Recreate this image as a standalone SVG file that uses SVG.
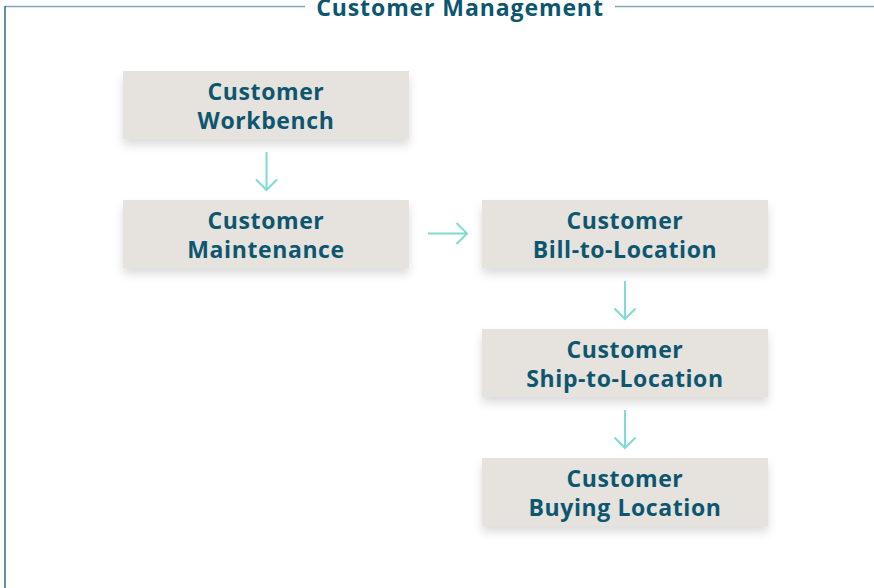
<svg xmlns="http://www.w3.org/2000/svg" width="874" height="588" viewBox="0 0 874 588">
<defs>
<style>
.box{fill:#e6e2dd;filter:url(#sh);}
.lbl{font-family:"Open Sans","Noto Sans",sans-serif;font-weight:700;font-size:23px;letter-spacing:0.6px;fill:#0d566f;text-anchor:middle;}
.title{font-family:"Open Sans","Noto Sans",sans-serif;font-weight:700;font-size:23px;letter-spacing:0.9px;fill:#0d566f;text-anchor:middle;}
.arr{stroke:#7fdcd4;stroke-width:2;fill:none;}
</style>
<filter id="sh" x="-10%" y="-20%" width="120%" height="160%">
<feDropShadow dx="0" dy="6" stdDeviation="5" flood-color="#000" flood-opacity="0.14"/>
</filter>
</defs>
<rect width="874" height="588" fill="#fff"/>
<g id="frame">
<line x1="5" y1="6.5" x2="305" y2="6.5" stroke="#7fa7b5" stroke-width="1.5"/>
<line x1="615" y1="6.5" x2="874" y2="6.5" stroke="#7fa7b5" stroke-width="1.5"/>
<line x1="5" y1="6" x2="5" y2="588" stroke="#2f6f82" stroke-width="1.5"/>
<text class="title" x="460" y="15.5">Customer Management</text>
</g>
<g id="connectors">
<path class="arr" d="M266.5 152V190M256 179.5L266.5 190L277 179.5"/>
<path class="arr" d="M428 233.5H467M456.5 223L467 233.5L456.5 244"/>
<path class="arr" d="M625 281V319M614.5 308.5L625 319L635.5 308.5"/>
<path class="arr" d="M625 410V448M614.5 437.5L625 448L635.5 437.5"/>
</g>
<g id="workbench">
<rect class="box" x="123" y="71" width="286" height="68"/>
<text class="lbl" x="266" y="100">Customer</text>
<text class="lbl" x="266" y="129">Workbench</text>
</g>
<g id="maintenance">
<rect class="box" x="123" y="200" width="286" height="68"/>
<text class="lbl" x="266" y="229">Customer</text>
<text class="lbl" x="266" y="258">Maintenance</text>
</g>
<g id="billto">
<rect class="box" x="482" y="200" width="286" height="68"/>
<text class="lbl" x="625" y="229">Customer</text>
<text class="lbl" x="625" y="258">Bill-to-Location</text>
</g>
<g id="shipto">
<rect class="box" x="482" y="329" width="286" height="68"/>
<text class="lbl" x="625" y="358">Customer</text>
<text class="lbl" x="625" y="387">Ship-to-Location</text>
</g>
<g id="buying">
<rect class="box" x="482" y="458" width="286" height="68"/>
<text class="lbl" x="625" y="487">Customer</text>
<text class="lbl" x="625" y="516">Buying Location</text>
</g>
</svg>
